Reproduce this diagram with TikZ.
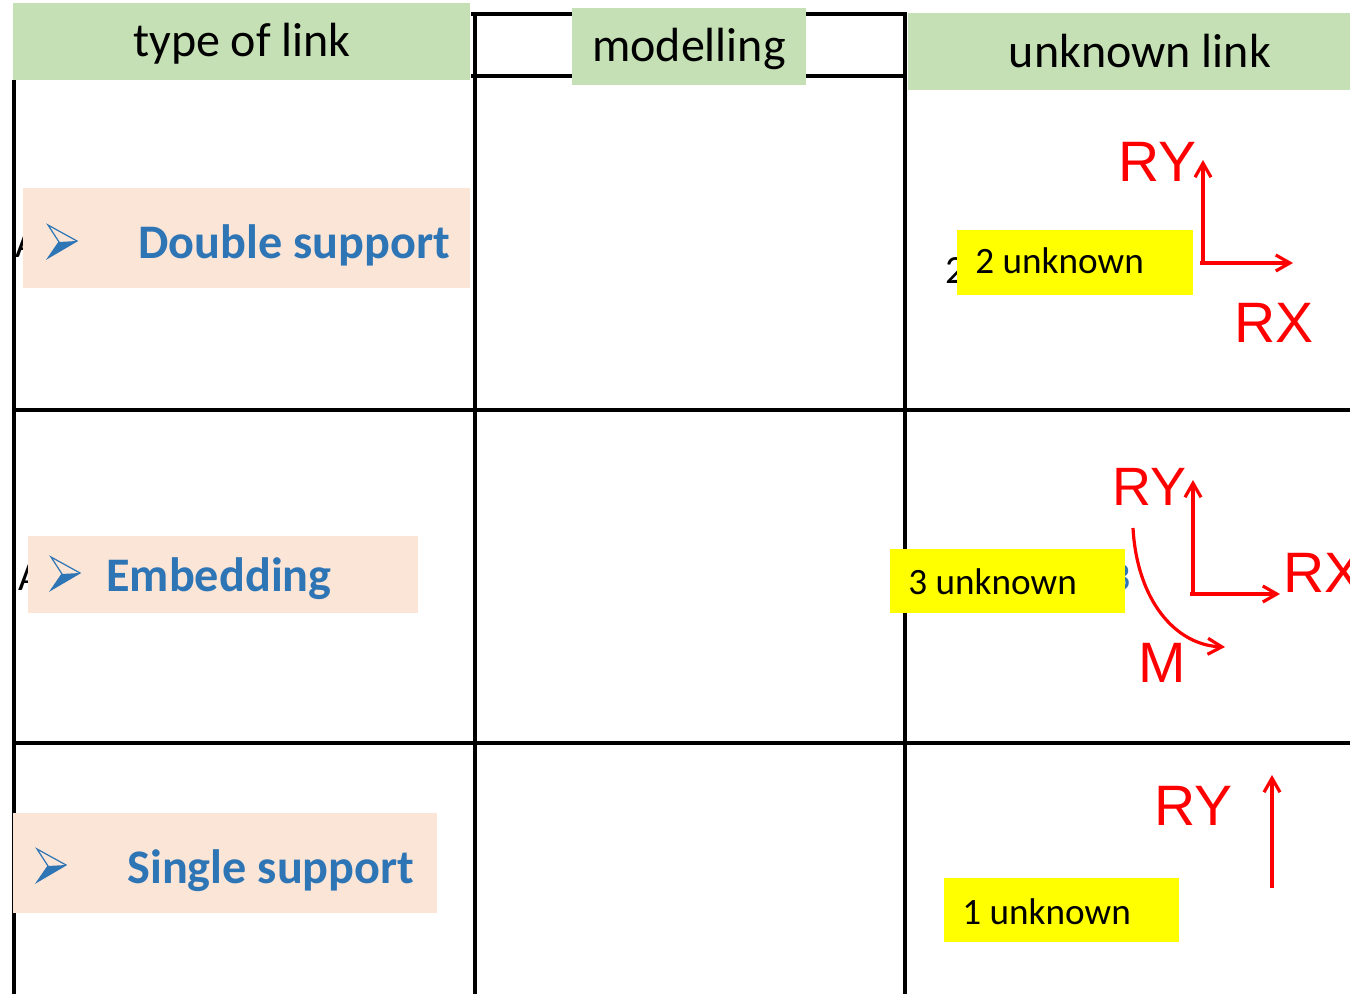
\documentclass[tikz,border=0pt]{standalone}
\usepackage{fontspec}
\setmainfont{Carlito}
\newfontfamily\arialf{Liberation Sans}
\usetikzlibrary{arrows.meta}
\definecolor{hdrgreen}{HTML}{C5E0B4}
\definecolor{pinkbg}{HTML}{FBE5D6}
\definecolor{bluetxt}{HTML}{2E75B6}
\definecolor{yel}{HTML}{FFFF00}
\definecolor{redf}{HTML}{FF0000}
\begin{document}
\begin{tikzpicture}[x=0.5pt,y=-0.5pt,
  grid/.style={line width=1.6pt,black},
  hdrbox/.style={fill=hdrgreen},
  pinkbox/.style={fill=pinkbg},
  yelbox/.style={fill=yel},
  hdrtxt/.style={inner sep=0pt,anchor=base,font=\fontsize{24}{28}\selectfont},
  linktxt/.style={inner sep=0pt,anchor=base west,text=bluetxt,font=\fontsize{24.1}{28}\selectfont\bfseries},
  unktxt/.style={inner sep=0pt,anchor=base west,font=\fontsize{18.6}{22}\selectfont},
  redtxt/.style={inner sep=0pt,anchor=base west,text=redf,font=\arialf\fontsize{28.5}{34}\selectfont},
  force/.style={draw=redf,line width=1.6pt,-{Straight Barb[length=7pt,width=8pt,line width=1.6pt]}},
  bul/.pic={
    \fill[bluetxt] (11,17) -- (29,16) -- (0,33) -- cycle;
    \draw[bluetxt,line width=0.6pt,line join=miter] (0,0) -- (29,16) -- (0,33) -- (11,17) -- cycle;
  }]
\useasboundingbox (0,0) rectangle (1350,994);
% fragments hidden behind boxes
\node[inner sep=0pt,anchor=base west,font=\fontsize{20}{24}\selectfont] (fragA1) at (15,258) {A};
\node[inner sep=0pt,anchor=base west,font=\fontsize{20}{24}\selectfont] (fragA2) at (18,590) {A};
\node[inner sep=0pt,anchor=base west,font=\fontsize{20}{24}\selectfont] (frag2) at (945,284) {2};
\node[inner sep=0pt,anchor=base east,text=bluetxt,font=\fontsize{20}{24}\selectfont] (frag3) at (1131,590) {3};
% table lines
\draw[grid] (14,80) -- (14,994);
\draw[grid] (475,13) -- (475,994);
\draw[grid] (905,13) -- (905,994);
\draw[grid] (471,14) -- (907,14);
\draw[grid] (471,76) -- (905,76);
\draw[grid] (14,410) -- (1350,410);
\draw[grid] (14,743) -- (1350,743);
% header boxes
\fill[hdrbox] (13,3) rectangle (470,80);
\fill[hdrbox] (572,8) rectangle (806,85);
\fill[hdrbox] (908,13) rectangle (1350,90);
\node[hdrtxt] (h1) at (242,57) {type of link};
\node[hdrtxt] (h2) at (689,62) {modelling};
\node[hdrtxt] (h3) at (1140,68) {unknown link};
% link type boxes
\fill[pinkbox] (23,188) rectangle (470,288);
\fill[pinkbox] (28,536) rectangle (418,613);
\fill[pinkbox] (13,813) rectangle (437,913);
\pic at (48,225) {bul};
\pic at (51,557) {bul};
\pic at (37,849) {bul};
\node[linktxt] (t1) at (138,259) {Double support};
\node[linktxt] (t2) at (106,591) {Embedding};
\node[linktxt] (t3) at (127,883) {Single support};
% unknown boxes
\fill[yelbox] (957,230) rectangle (1193,295);
\fill[yelbox] (890,549) rectangle (1125,613);
\fill[yelbox] (944,878) rectangle (1179,942);
\node[unktxt] (u1) at (975,274) {2 unknown};
\node[unktxt] (u2) at (908,595) {3 unknown};
\node[unktxt] (u3) at (962,924) {1 unknown};
% row 1 reactions
\node[redtxt] (ry1) at (1118,182) {RY};
\node[redtxt] (rx1) at (1234,343) {RX};
\coordinate (o1) at (1203,263);
\coordinate (o1y) at (1203,160);
\coordinate (o1x) at (1293,263);
\draw[force] (o1) -- (o1y);
\draw[force] ([xshift=-1.5pt]o1) -- (o1x);
% row 2 reactions
\node[redtxt,font=\arialf\fontsize{27}{32}\selectfont] (ry2) at (1112,506) {RY};
\node[redtxt] (rx2) at (1283,593) {RX};
\node[redtxt] (m2) at (1138,682) {M};
\coordinate (o2) at (1193,594);
\coordinate (o2y) at (1193,480);
\coordinate (o2x) at (1280,594);
\draw[force] (o2) -- (o2y);
\draw[force] ([xshift=-1.5pt]o2) -- (o2x);
\coordinate (m2s) at (1133,528);
\coordinate (m2e) at (1225,647);
\draw[force] (m2s) .. controls (1137,600) and (1175,645) .. (m2e);
% row 3 reaction
\node[redtxt] (ry3) at (1154,825) {RY};
\coordinate (o3) at (1272,888);
\coordinate (o3y) at (1272,775);
\draw[force] (o3) -- (o3y);
\end{tikzpicture}
\end{document}
